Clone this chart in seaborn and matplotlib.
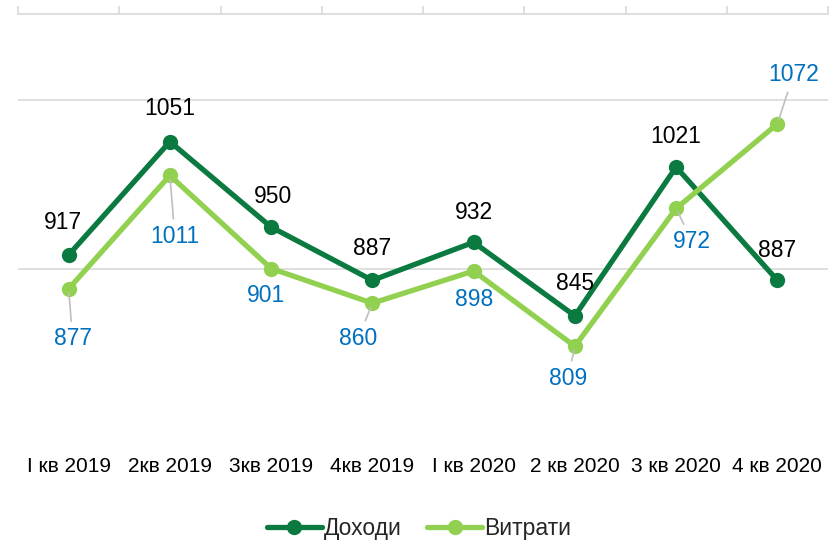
import matplotlib
matplotlib.use("Agg")
import matplotlib.pyplot as plt
from matplotlib.ticker import FixedLocator
import seaborn as sns
import pandas as pd

quarters = ["I кв 2019", "2кв 2019", "3кв 2019", "4кв 2019",
            "I кв 2020", "2 кв 2020", "3 кв 2020", "4 кв 2020"]
income = [917, 1051, 950, 887, 932, 845, 1021, 887]
expenses = [877, 1011, 901, 860, 898, 809, 972, 1072]
series_names = ["Доходи", "Витрати"]
colors = {"Доходи": "#0A7A40", "Витрати": "#92D050"}

sns.set_theme(style="white")
plt.rcParams["font.family"] = ["Liberation Sans", "DejaVu Sans"]

df = pd.DataFrame({
    "quarter": quarters * 2,
    "value": income + expenses,
    "series": [series_names[0]] * len(quarters) + [series_names[1]] * len(quarters),
})
df["pos"] = list(range(len(quarters))) * 2

fig = plt.figure(figsize=(8.38, 5.43), dpi=100)
ax = fig.add_axes([18 / 838, 1 - 430 / 543, 810 / 838, 416 / 543])

sns.lineplot(data=df, x="pos", y="value", hue="series", palette=colors,
             marker="o", markersize=11, markeredgewidth=0, linewidth=3.8,
             ax=ax, legend=False, zorder=3)

ax.set_xlim(-0.5, len(quarters) - 0.5)
ax.set_ylim(710, 1202)
ax.set_xlabel("")
ax.set_ylabel("")

# horizontal gridlines
ax.set_yticks([900, 1100])
ax.yaxis.grid(True, color="#D9D9D9", linewidth=1.2)
ax.tick_params(axis="y", left=False, labelleft=False)

# category labels below, separator ticks along the top axis line
ax.set_xticks(range(len(quarters)))
ax.set_xticklabels(quarters, fontsize=15, color="black")
ax.tick_params(axis="x", which="major", bottom=False, top=False, length=0, pad=19.5)
ax.xaxis.set_minor_locator(FixedLocator([i - 0.5 for i in range(len(quarters) + 1)]))
ax.tick_params(axis="x", which="minor", top=True, bottom=False, direction="out",
               length=6, width=1.2, color="#D9D9D9")

for side in ["left", "right", "bottom"]:
    ax.spines[side].set_visible(False)
ax.spines["top"].set_color("#D9D9D9")
ax.spines["top"].set_linewidth(1.2)

# data labels: offsets in pixels (dx, dy) from each point
income_offsets = [(-6, 32), (0, 33), (2, 31), (0, 32), (0, 30), (0, 32), (0, 31), (0, 30)]
expense_offsets = [(4, -50), (5, -61), (-5, -27), (-14, -35), (0, -28), (-7, -32), (16, -33), (16, 49)]
leader = [True, True, False, True, False, True, True, True]

for i, v in enumerate(income):
    ax.annotate(str(v), (i, v), xytext=income_offsets[i], textcoords="offset pixels",
                ha="center", va="center", fontsize=16.5, color="black", zorder=5)

for i, v in enumerate(expenses):
    arrow = dict(arrowstyle="-", color="#BFBFBF", lw=1.2, shrinkA=2, shrinkB=3) if leader[i] else None
    ax.annotate(str(v), (i, v), xytext=expense_offsets[i], textcoords="offset pixels",
                ha="center", va="center", fontsize=16.5, color="#0070C0", zorder=5,
                arrowprops=arrow)

handles = [plt.Line2D([], [], color=colors[n], marker="o", markersize=11,
                      markeredgewidth=0, linewidth=3.8) for n in series_names]
fig.legend(handles, series_names, loc="center", bbox_to_anchor=(0.5, 1 - 529 / 543),
           ncol=2, frameon=False, fontsize=16.5, handlelength=2.4,
           handletextpad=0.1, columnspacing=1.1)

fig.savefig("out.png", dpi=100)
